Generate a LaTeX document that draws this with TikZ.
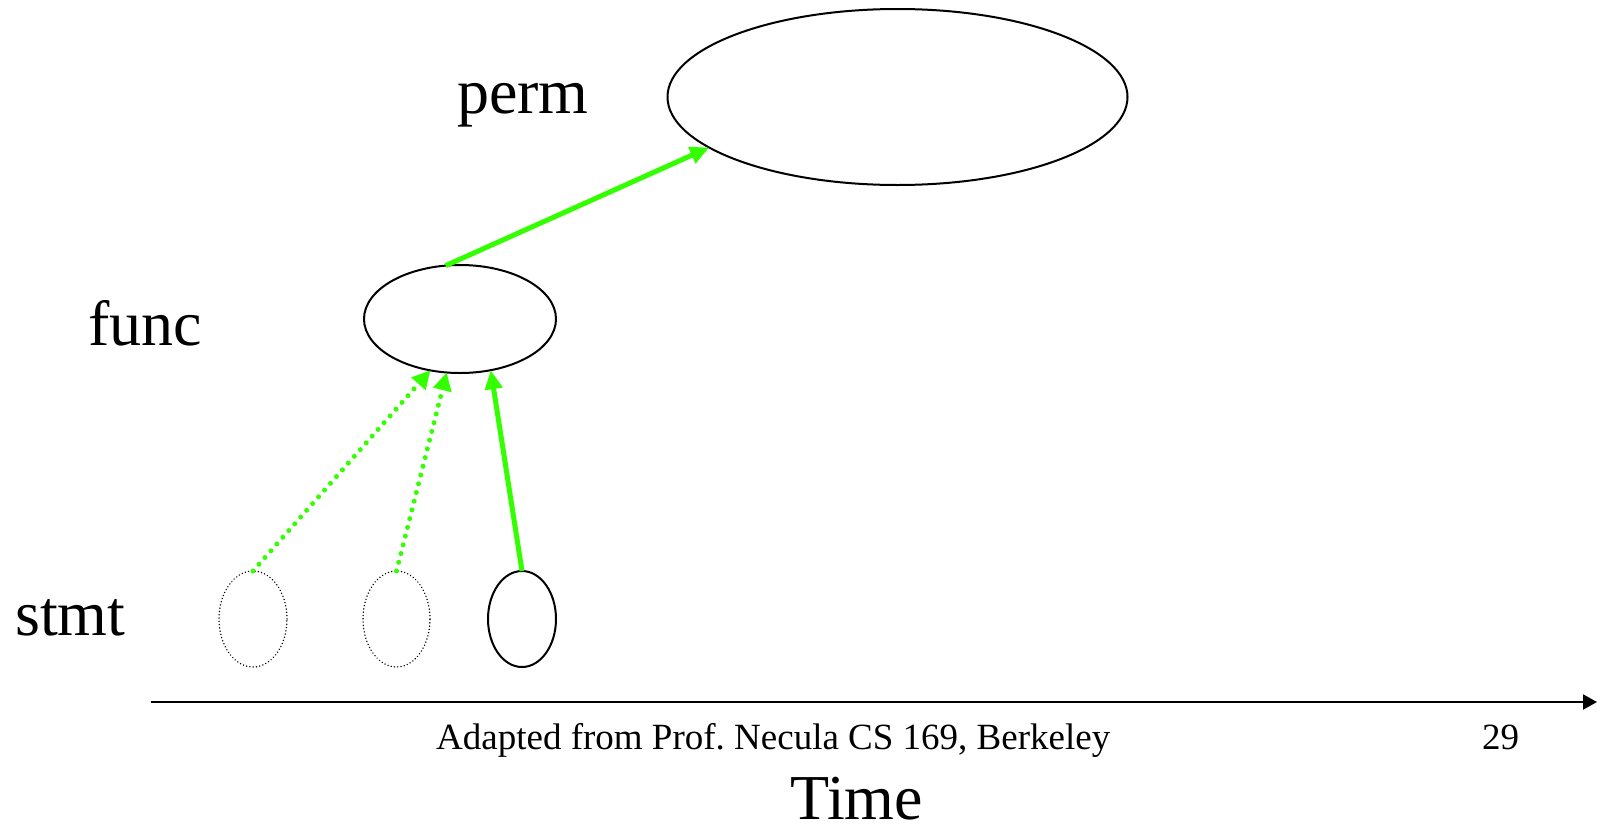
\documentclass[tikz,border=0pt]{standalone}
\usepackage{fontspec}
\setmainfont{Liberation Serif}
\usetikzlibrary{shapes.geometric,arrows.meta}
\definecolor{flow}{RGB}{51,255,0}
\tikzset{
  level/.style={font=\fontsize{64}{76}\selectfont, anchor=base west, inner sep=0pt},
  small/.style={font=\fontsize{37}{44}\selectfont, anchor=base west, inner sep=0pt},
  scope box/.style={ellipse, draw=black, line width=2pt, inner sep=0pt, outer sep=0pt},
  ghost box/.style={ellipse, draw=black, line width=1.5pt, dash pattern=on 0.1pt off 3.2pt, line cap=round, inner sep=0pt, outer sep=0pt},
  solid link/.style={draw=flow, line width=5pt, -{Triangle[length=19pt,width=17pt]}},
  dotted link/.style={draw=flow, line width=5pt, line cap=round, dash pattern=on 0pt off 9pt, -{Triangle[length=18pt,width=18pt]}},
}
\begin{document}
\begin{tikzpicture}[x=1pt, y=-1pt]
\useasboundingbox (0,0) rectangle (1597,825);

% scope ellipses
\node[scope box, minimum width=460pt, minimum height=176pt] (perm) at (897.5,97) {};
\node[scope box, minimum width=192pt, minimum height=108pt] (func) at (460,319) {};
\node[ghost box, minimum width=68pt, minimum height=96pt] (s1) at (253,619) {};
\node[ghost box, minimum width=67pt, minimum height=96pt] (s2) at (396.5,619) {};
\node[scope box, minimum width=68pt, minimum height=96pt] (s3) at (522,619) {};

% level labels
\node[level] (lperm) at (457,113) {perm};
\node[level] (lfunc) at (88,345.7) {func};
\node[level] (lstmt) at (15,635) {stmt};

% links between scopes
\draw[dotted link] (s1.north) -- (func.-120);
\draw[dotted link] (s2.north) -- (func.-104.5);
\draw[solid link] (s3.north) -- (func.-59.5);
\draw[solid link] (func.105) -- (perm.195.5);

% time axis
\coordinate (t0) at (151,702);
\coordinate (t1) at (1597,702);
\draw[line width=2pt, -{Triangle[length=14pt,width=15pt]}] (t0) -- (t1);

\node[small] (credit) at (436,749) {Adapted from Prof.\ Necula CS 169, Berkeley};
\node[small] (page) at (1482,749) {29};
\node[level] (time) at (790,819) {Time};
\end{tikzpicture}
\end{document}
